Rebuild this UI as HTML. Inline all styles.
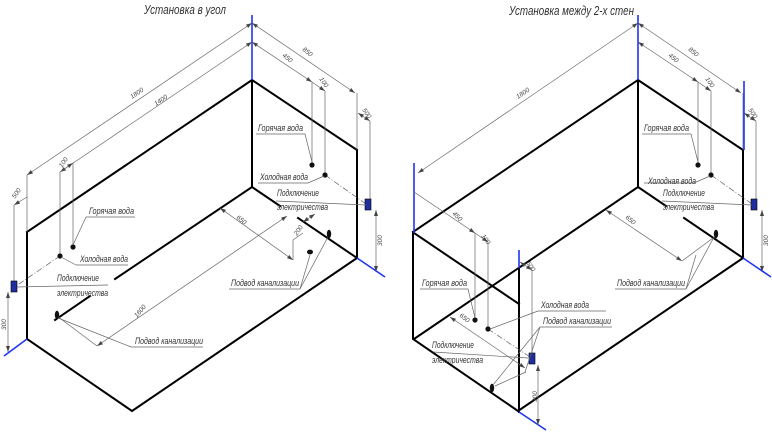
<!DOCTYPE html>
<html><head><meta charset="utf-8">
<style>
html,body{margin:0;padding:0;background:#fff;}
svg{display:block;}
text{font-family:"Liberation Sans",sans-serif;font-style:italic;fill:#333;}
.t{font-size:9.5px;}
.d{font-size:6.5px;fill:#444;}
.k{stroke:#000;stroke-width:2;fill:none;stroke-linecap:square;}
.b{stroke:#1f35f0;stroke-width:1.6;fill:none;}
.g{stroke:#666;stroke-width:0.7;fill:none;}
.dd{stroke:#666;stroke-width:0.7;fill:none;stroke-dasharray:6 2 1 2;}
</style></head><body>
<svg width="772" height="432" viewBox="0 0 772 432" xmlns="http://www.w3.org/2000/svg">
<defs>
<marker id="a" markerWidth="6" markerHeight="4" refX="6" refY="2" orient="auto" markerUnits="userSpaceOnUse"><path d="M0,0 L6,2 L0,4z" fill="#444"/></marker>
<marker id="s" markerWidth="6" markerHeight="4" refX="0" refY="2" orient="auto" markerUnits="userSpaceOnUse"><path d="M6,0 L0,2 L6,4z" fill="#444"/></marker>
<g id="base">
<path class="k" d="M27,232 L252,80 L357,150 M252,80 L252,187 M357,150 L357,258 M27,232 L27,339 L132,411 L357,258 M252,187 L280,206 M298,218 L357,258"/>
<path class="g" d="M252,23 L355,93" marker-start="url(#s)" marker-end="url(#a)"/>
<path class="g" d="M357,93 L357,150"/>
<path class="g" d="M252,42 L312,82" marker-start="url(#s)" marker-end="url(#a)"/>
<path class="g" d="M312,82 L325,91" marker-end="url(#a)"/>
<path class="g" d="M312,82 L312,163 M325,91 L325,173 M370,121 L370,203"/>
<path class="g" d="M358,113 L370,121" marker-start="url(#s)" marker-end="url(#a)"/>
<path class="g" d="M376,210 L376,272" marker-start="url(#s)" marker-end="url(#a)"/>
<path class="dd" d="M325,175 L366,204"/>
<circle cx="312" cy="165" r="2.6" fill="#111"/>
<circle cx="325" cy="175" r="2.6" fill="#111"/>
<rect x="365" y="199" width="6" height="11" fill="#1f2fa0" stroke="#000" stroke-width="0.6"/>
<path class="g" d="M256,134 L305,134 L312,162 M258,183 L308,183 L324,176 M276,201 L366,205 M229,289 L300,289 L310,255 M300,289 L328,237"/>
<path class="b" d="M252,15 L252,80 M357,258 L385,277"/>
</g>
</defs>

<!-- LEFT -->
<text x="144" y="14" textLength="82" lengthAdjust="spacingAndGlyphs" style="font-size:13px">Установка в угол</text>
<use href="#base"/>
<path class="k" d="M252,187 L115,279 M90,296 L55,320"/>
<path class="b" d="M27,339 L4,356"/>
<path class="g" d="M252,23 L27,175" marker-start="url(#s)" marker-end="url(#a)"/>
<path class="g" d="M27,175 L27,232"/>
<path class="g" d="M252,42 L60,172" marker-start="url(#s)" marker-end="url(#a)"/>
<path class="g" d="M73,163 L60,172" marker-start="url(#s)"/>
<path class="g" d="M60,172 L60,254 M73,163 L73,245 M14,205 L14,283"/>
<path class="g" d="M27,197 L14,205" marker-end="url(#a)"/>
<path class="g" d="M8,292 L8,352" marker-start="url(#s)" marker-end="url(#a)"/>
<path class="g" d="M220,208 L293,260" marker-start="url(#s)" marker-end="url(#a)"/>
<path class="g" d="M293,240 L293,260 M293,240 L303,233"/>
<path class="g" d="M303,222 L315,214" marker-start="url(#s)" marker-end="url(#a)"/>
<path class="g" d="M97,346 L287,216" marker-start="url(#s)" marker-end="url(#a)"/>
<path class="g" d="M57,316 L97,346"/>
<path class="dd" d="M60,256 L16,286"/>
<circle cx="73" cy="247" r="2.6" fill="#111"/>
<circle cx="60" cy="256" r="2.6" fill="#111"/>
<ellipse cx="57" cy="315" rx="2.2" ry="4.2" fill="#111"/>
<ellipse cx="329" cy="234" rx="2.2" ry="4.2" fill="#111"/>
<ellipse cx="310" cy="252" rx="3" ry="2.4" fill="#111"/>
<rect x="11" y="281" width="6" height="11" fill="#1f2fa0" stroke="#000" stroke-width="0.6"/>
<path class="g" d="M86,217 L135,217 M86,217 L73,245 M76,265 L128,265 M76,265 L61,257 M17,287 L108,285 M131,347 L203,347 M131,347 L58,318"/>
<text class="t" x="89" y="214" textLength="45" lengthAdjust="spacingAndGlyphs">Горячая вода</text>
<text class="t" x="80" y="262" textLength="48" lengthAdjust="spacingAndGlyphs">Холодная вода</text>
<text class="t" x="57" y="281" textLength="42" lengthAdjust="spacingAndGlyphs">Подключение</text>
<text class="t" x="57" y="296" textLength="51" lengthAdjust="spacingAndGlyphs">электричества</text>
<text class="t" x="135" y="344" textLength="68" lengthAdjust="spacingAndGlyphs">Подвод канализации</text>
<text class="t" x="258" y="131" textLength="45" lengthAdjust="spacingAndGlyphs">Горячая вода</text>
<text class="t" x="260" y="180" textLength="48" lengthAdjust="spacingAndGlyphs">Холодная вода</text>
<text class="t" x="277" y="196" textLength="42" lengthAdjust="spacingAndGlyphs">Подключение</text>
<text class="t" x="277" y="210" textLength="51" lengthAdjust="spacingAndGlyphs">электричества</text>
<text class="t" x="231" y="286" textLength="68" lengthAdjust="spacingAndGlyphs">Подвод канализации</text>
<text class="d" transform="translate(132,99) rotate(-34)">1800</text>
<text class="d" transform="translate(156,106) rotate(-34)">1400</text>
<text class="d" transform="translate(62,168) rotate(-55)">100</text>
<text class="d" transform="translate(15,199) rotate(-55)">500</text>
<text class="d" transform="translate(6,330) rotate(-90)">300</text>
<text class="d" transform="translate(302,50) rotate(40)">850</text>
<text class="d" transform="translate(282,56) rotate(40)">450</text>
<text class="d" transform="translate(319,79) rotate(55)">100</text>
<text class="d" transform="translate(362,110) rotate(55)">500</text>
<text class="d" transform="translate(382,246) rotate(-90)">300</text>
<text class="d" transform="translate(236,218) rotate(40)">650</text>
<text class="d" transform="translate(297,236) rotate(-55)">200</text>
<text class="d" transform="translate(137,318) rotate(-50)">1600</text>

<!-- RIGHT -->
<text x="509" y="15" textLength="125" lengthAdjust="spacingAndGlyphs" style="font-size:13px">Установка между 2-х стен</text>
<use href="#base" x="386"/>
<path class="k" d="M638,187 L414,339 M414,233 L519,304 M519,268 L519,412"/>
<path class="b" d="M414,163 L414,233 M744,81 L744,150 M519,250 L519,268 M519,412 L546,430"/>
<path class="g" d="M638,23 L418,173" marker-start="url(#s)" marker-end="url(#a)"/>
<path class="g" d="M414,192 L475,233" marker-end="url(#a)"/>
<path class="g" d="M475,233 L488,242" marker-end="url(#a)"/>
<path class="g" d="M475,233 L475,318 M488,242 L488,327 M532,270 L532,353"/>
<path class="g" d="M520,262 L532,270" marker-start="url(#s)" marker-end="url(#a)"/>
<path class="g" d="M538,365 L538,425" marker-start="url(#s)" marker-end="url(#a)"/>
<path class="g" d="M450,317 L525,368" marker-start="url(#s)" marker-end="url(#a)"/>
<path class="g" d="M606,210 L682,261" marker-start="url(#s)" marker-end="url(#a)"/>
<path class="g" d="M682,261 L713,238"/>
<path class="dd" d="M488,329 L530,357"/>
<circle cx="475" cy="320" r="2.6" fill="#111"/>
<circle cx="488" cy="329" r="2.6" fill="#111"/>
<ellipse cx="716" cy="234" rx="2.2" ry="4.2" fill="#111"/>
<ellipse cx="492" cy="388" rx="2.2" ry="4.2" fill="#111"/>
<rect x="529" y="353" width="6" height="11" fill="#1f2fa0" stroke="#000" stroke-width="0.6"/>
<path class="g" d="M420,289 L468,289 L475,318 M538,311 L606,311 M538,311 L490,329 M540,327 L612,327 M540,327 L493,385 M540,327 L525,372 M433,352 L528,358 M526,372 L495,386"/>
<text class="t" x="422" y="286" textLength="45" lengthAdjust="spacingAndGlyphs">Горячая вода</text>
<text class="t" x="541" y="308" textLength="48" lengthAdjust="spacingAndGlyphs">Холодная вода</text>
<text class="t" x="543" y="324" textLength="68" lengthAdjust="spacingAndGlyphs">Подвод канализации</text>
<text class="t" x="432" y="348" textLength="42" lengthAdjust="spacingAndGlyphs">Подключение</text>
<text class="t" x="432" y="363" textLength="51" lengthAdjust="spacingAndGlyphs">электричества</text>
<text class="t" x="644" y="131" textLength="45" lengthAdjust="spacingAndGlyphs">Горячая вода</text>
<text class="t" x="648" y="184" textLength="48" lengthAdjust="spacingAndGlyphs">Холодная вода</text>
<text class="t" x="663" y="196" textLength="42" lengthAdjust="spacingAndGlyphs">Подключение</text>
<text class="t" x="663" y="210" textLength="51" lengthAdjust="spacingAndGlyphs">электричества</text>
<text class="t" x="617" y="286" textLength="68" lengthAdjust="spacingAndGlyphs">Подвод канализации</text>
<text class="d" transform="translate(518,99) rotate(-34)">1800</text>
<text class="d" transform="translate(688,50) rotate(40)">850</text>
<text class="d" transform="translate(668,56) rotate(40)">450</text>
<text class="d" transform="translate(705,79) rotate(55)">100</text>
<text class="d" transform="translate(748,110) rotate(55)">500</text>
<text class="d" transform="translate(768,246) rotate(-90)">300</text>
<text class="d" transform="translate(625,218) rotate(40)">650</text>
<text class="d" transform="translate(452,214) rotate(45)">450</text>
<text class="d" transform="translate(481,236) rotate(55)">100</text>
<text class="d" transform="translate(526,263) rotate(55)">500</text>
<text class="d" transform="translate(459,316) rotate(40)">650</text>
<text class="d" transform="translate(537,402) rotate(-90)">300</text>
</svg>
</body></html>
